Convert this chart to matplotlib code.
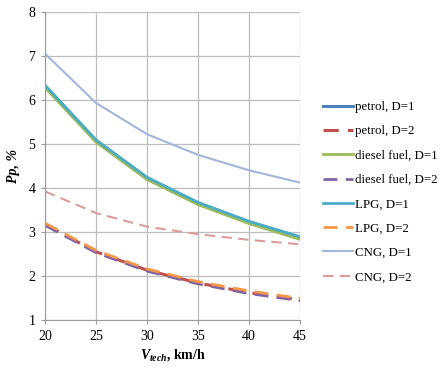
import matplotlib.pyplot as plt

plt.rcParams['font.family'] = ['Liberation Serif', 'DejaVu Serif']
plt.rcParams['mathtext.fontset'] = 'custom'
plt.rcParams['mathtext.it'] = 'Liberation Serif:bold:italic'
plt.rcParams['mathtext.rm'] = 'Liberation Serif:bold'
plt.rcParams['mathtext.bf'] = 'Liberation Serif:bold'

speed = [20, 25, 30, 35, 40, 45]

petrol_d1 = [6.32, 5.08, 4.23, 3.66, 3.23, 2.88]
petrol_d2 = [3.17, 2.55, 2.13, 1.84, 1.62, 1.46]
diesel_d1 = [6.28, 5.04, 4.19, 3.62, 3.19, 2.83]
diesel_d2 = [3.15, 2.53, 2.11, 1.82, 1.60, 1.44]
lpg_d1 = [6.33, 5.09, 4.24, 3.67, 3.24, 2.89]
lpg_d2 = [3.20, 2.58, 2.16, 1.87, 1.66, 1.49]
cng_d1 = [7.05, 5.93, 5.22, 4.75, 4.40, 4.12]
cng_d2 = [3.92, 3.43, 3.12, 2.95, 2.82, 2.72]

series = [
    ("petrol, D=1", petrol_d1, "#4F81BD", "-", 2.2),
    ("petrol, D=2", petrol_d2, "#C0504D", "--", 2.2),
    ("diesel fuel, D=1", diesel_d1, "#9BBB59", "-", 2.0),
    ("diesel fuel, D=2", diesel_d2, "#8064A2", "--", 2.0),
    ("LPG, D=1", lpg_d1, "#4BACC6", "-", 2.0),
    ("LPG, D=2", lpg_d2, "#F79646", "--", 2.0),
    ("CNG, D=1", cng_d1, "#A3B5DB", "-", 1.5),
    ("CNG, D=2", cng_d2, "#DB9C9A", "--", 1.5),
]

fig = plt.figure(figsize=(4.46, 3.71), dpi=100)
ax = fig.add_axes([0.101, 0.1375, 0.572, 0.8305])

for name, vals, col, ls, lw in series:
    ax.plot(speed, vals, color=col, linestyle=ls, linewidth=lw, label=name,
            dashes=(5, 3) if ls == "--" else (None, None))

ax.set_xlim(20, 45)
ax.set_ylim(1, 8)
ax.set_xticks(speed)
ax.set_yticks(range(1, 9))
ax.grid(True, color="#BDBDBD", linewidth=0.9)
ax.set_axisbelow(True)
for s in ["top", "right"]:
    ax.spines[s].set_visible(False)
for s in ["left", "bottom"]:
    ax.spines[s].set_color("#9A9A9A")
ax.tick_params(length=3, color="#9A9A9A", labelsize=10, pad=4)

ax.set_xlabel(r"$V_{tech}$" + ", km/h", fontsize=10, fontweight="bold", labelpad=3)
ax.set_ylabel("Pp, %", fontsize=10, fontweight="bold", fontstyle="italic", labelpad=6)

fig.legend(loc="center left", bbox_to_anchor=(0.713, 0.482), frameon=False,
           fontsize=9.3, handlelength=2.3, handletextpad=0.2, labelspacing=0.95,
           borderaxespad=0)

fig.savefig("out.png", dpi=100)
